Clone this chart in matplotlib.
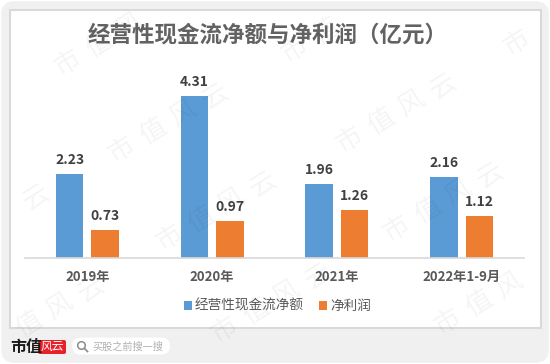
import matplotlib
matplotlib.use("Agg")
import matplotlib.pyplot as plt
from matplotlib.patches import FancyBboxPatch, Rectangle, Circle
import numpy as np

plt.rcParams['font.family'] = ['Noto Sans CJK SC', 'DejaVu Sans']

# values in 100 million yuan
categories = ['2019年', '2020年', '2021年', '2022年1-9月']
cash_flow = [2.23, 4.31, 1.96, 2.16]
net_profit = [0.73, 0.97, 1.26, 1.12]
series_names = ['经营性现金流净额', '净利润']
title_text = '经营性现金流净额与净利润（亿元）'
watermark_text = '市值风云'
W, H = 550, 364

fig = plt.figure(figsize=(W / 100, H / 100), dpi=100, facecolor='white')

# background layer in pixel coordinates, y pointing down
bg = fig.add_axes([0, 0, 1, 1], zorder=0)
bg.set_xlim(0, W)
bg.set_ylim(H, 0)
bg.axis('off')
bg.add_patch(FancyBboxPatch((4, 4), W - 8, H - 8, boxstyle='round,pad=0,rounding_size=10',
                            fc='#f0f0f0', ec='#f0f0f0', lw=4))
bg.add_patch(Rectangle((9.5, 9.5), 531, 318, fc='white', ec='#d9d9d9', lw=1.5))

# chart, axes box mapped onto the pixel position of the baseline
left, right, base, top = 25, 524, 257.5, 30
ax = fig.add_axes([left / W, 1 - base / H, (right - left) / W, (base - top) / H], zorder=1)
ax.patch.set_alpha(0)
x = np.arange(len(categories))
bar_w = 0.22
off = 0.142
b1 = ax.bar(x - off, cash_flow, bar_w, color='#5b9bd5', label=series_names[0])
b2 = ax.bar(x + off, net_profit, bar_w, color='#ed7d31', label=series_names[1])
ax.set_xlim(-0.5, 3.5)
ax.set_ylim(0, (base - top) / 37.45)
for bars in (b1, b2):
    ax.bar_label(bars, fmt='%.2f', padding=5, fontsize=10, fontweight='bold', color='#404040')
ax.set_yticks([])
ax.set_xticks(x)
ax.set_xticklabels(categories, fontsize=9.5, fontweight='bold', color='#595959')
ax.tick_params(axis='x', length=0, pad=9)
for s in ('top', 'left', 'right'):
    ax.spines[s].set_visible(False)
ax.spines['bottom'].set_color('#d9d9d9')
ax.spines['bottom'].set_linewidth(1.2)
fig.legend(handles=[b1, b2], loc='center', bbox_to_anchor=(277.5 / W, 1 - 306 / H), ncol=2, frameon=False,
           fontsize=9.8, labelcolor='#595959', handlelength=0.6, handleheight=0.6,
           handletextpad=0.25, columnspacing=1.1)

# overlay: title, watermark, footer
ov = fig.add_axes([0, 0, 1, 1], zorder=2)
ov.set_xlim(0, W)
ov.set_ylim(H, 0)
ov.axis('off')
ov.patch.set_alpha(0)
ov.text(267.5, 35, title_text, fontsize=16.2, color='#626262', ha='center', va='center', fontweight='bold')

# watermark is set one character at a time, it has wide letter spacing
wm_starts = [(68, 63), (122, 150), (170, 238), (225, 330), (295, 50), (350, 140), (397, 229), (448, 322),
             (517, 43), (-2, 343), (-57, 251)]
for wx, wy in wm_starts:
    for i, ch in enumerate(watermark_text):
        cx, cy = wx + 31 * i, wy - 18 * i
        if 20 < cx < W - 20 and 20 < cy < H - 20:
            ov.text(cx, cy, ch, fontsize=19, color='#000000', alpha=0.045, rotation=32,
                    ha='center', va='center', fontweight='light')

ov.text(10.5, 347, '市值', fontsize=11.5, fontweight='black', color='#1a1a1a', va='center', ha='left')
ov.add_patch(FancyBboxPatch((38, 340), 28, 14, boxstyle='round,pad=0,rounding_size=2', fc='#e8202a', ec='none'))
ov.text(52, 346.5, '风云', fontsize=8.5, color='white', style='italic', ha='center', va='center')
ov.add_patch(FancyBboxPatch((72, 337.5), 98, 17, boxstyle='round,pad=0,rounding_size=8.5', fc='white', ec='none'))
ov.add_patch(Circle((81.5, 345.5), 3.8, fc='none', ec='#8c8c8c', lw=1.1))
ov.plot([84.5, 87.5], [348.5, 351.5], color='#8c8c8c', lw=1.2)
ov.text(92, 346.5, '买股之前搜一搜', fontsize=7.3, color='#b0b0b0', va='center', ha='left')

fig.savefig('out.png', dpi=100)
